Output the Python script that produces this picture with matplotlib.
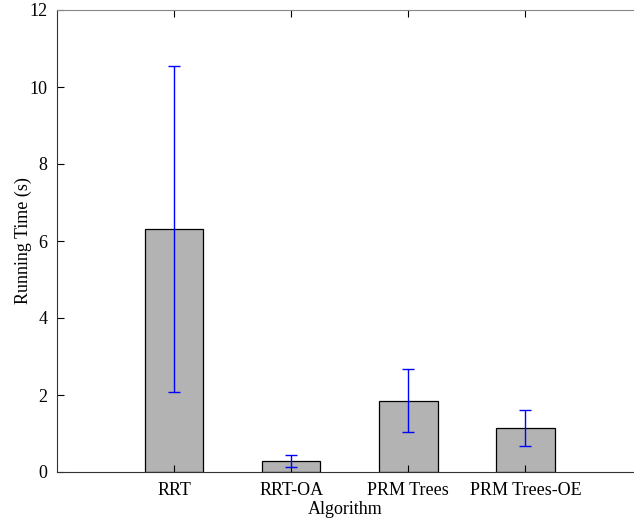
import numpy as np
import matplotlib.pyplot as plt

algorithms = ['RRT', 'RRT-OA', 'PRM Trees', 'PRM Trees-OE']
mean_time = [6.31, 0.29, 1.85, 1.15]
std_time = [4.24, 0.15, 0.82, 0.47]

plt.rcParams['font.family'] = ['Liberation Serif', 'DejaVu Serif']
plt.rcParams['font.size'] = 13

fig = plt.figure(figsize=(6.34, 5.25), dpi=100)
ax = fig.add_axes([57 / 634, 53 / 525, (633 - 57) / 634, (472 - 10) / 525])

x = np.arange(1, len(algorithms) + 1)
ax.bar(x, mean_time, width=0.5, color='#b3b3b3', edgecolor='black', linewidth=0.9)
ax.errorbar(x, mean_time, yerr=std_time, fmt='none', ecolor='blue',
            elinewidth=1.0, capsize=4, capthick=1.0)

ax.set_xlim(0, (633 - 56) / 117.3)
ax.set_ylim(0, 12)
ax.set_xticks(x)
ax.set_xticklabels(algorithms)
ax.set_yticks(range(0, 13, 2))
ax.tick_params(direction='in', length=5, top=True, right=False, pad=7)
ax.spines['right'].set_visible(False)
ax.spines['top'].set_color('#888888')
ax.spines['left'].set_color('#333333')
ax.spines['bottom'].set_color('#333333')
ax.set_xlabel('Algorithm', labelpad=2)
ax.set_ylabel('Running Time (s)', labelpad=-2)

fig.savefig('out.png', dpi=100)
